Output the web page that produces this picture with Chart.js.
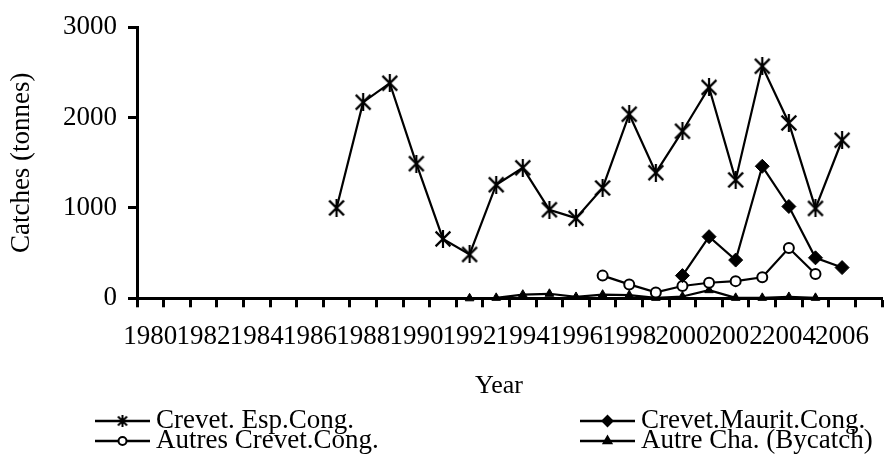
<!DOCTYPE html>
<html><head><meta charset="utf-8">
<script src="https://cdn.jsdelivr.net/npm/chart.js@4/dist/chart.umd.min.js"></script>
<style>html,body{margin:0;padding:0;background:#fff}#wrap{width:893px;height:459px;position:relative}</style>
</head><body><div id="wrap"><canvas id="c"></canvas></div>
<script>
// ---- data ----
const years = ['1980','1981','1982','1983','1984','1985','1986','1987','1988','1989','1990','1991','1992','1993','1994','1995','1996','1997','1998','1999','2000','2001','2002','2003','2004','2005','2006','2007'];
const crevetEspCong   = [null,null,null,null,null,null,null,1000,2170,2380,1490,657,485,1257,1444,980,887,1221,2037,1390,1849,2334,1310,2568,1940,995,1749,null];
const crevetMauritCong= [null,null,null,null,null,null,null,null,null,null,null,null,null,null,null,null,null,null,null,null,251,682,423,1461,1016,448,340,null];
const autresCrevetCong= [null,null,null,null,null,null,null,null,null,null,null,null,null,null,null,null,null,251,154,65,136,172,190,233,556,269,null,null];
const autreChaBycatch = [null,null,null,null,null,null,null,null,null,null,null,null,0,5,40,50,15,40,35,5,20,90,5,5,15,5,null,null];
const seriesNames = ['Crevet. Esp.Cong.','Crevet.Maurit.Cong.','Autres Crevet.Cong.','Autre Cha. (Bycatch)'];
const yTickValues = [0,1000,2000,3000];
const xTitle = 'Year';
const yTitle = 'Catches (tonnes)';

function asterisk(size, lw){
  const c=document.createElement('canvas'); c.width=size; c.height=size;
  const g=c.getContext('2d'); g.strokeStyle='#000'; g.lineWidth=lw;
  const m=lw/2+0.5;
  g.beginPath();
  g.moveTo(m,m); g.lineTo(size-m,size-m);
  g.moveTo(size-m,m); g.lineTo(m,size-m);
  g.moveTo(size/2,0); g.lineTo(size/2,size);
  g.stroke();
  return c;
}
const starBig = asterisk(18,2.2);
const starSmall = asterisk(12,2);

const FONT = '"Liberation Serif", "Times New Roman", serif';
Chart.defaults.font.family = FONT;
Chart.defaults.color = '#000';

const legendMarks = [
  {pointStyle: starSmall, radius: 6, fill:'#000'},
  {pointStyle: 'rectRot', radius: 5, fill:'#000'},
  {pointStyle: 'circle', radius: 4, fill:'#fff'},
  {pointStyle: 'triangle', radius: 4.5, fill:'#000'}
];

const refLegend = {
  id:'refLegend',
  afterDraw(chart){
    const ctx=chart.ctx;
    ctx.save();
    ctx.fillStyle='#000';
    ctx.font='26px '+FONT; ctx.textAlign='center'; ctx.textBaseline='middle';
    ctx.fillText(xTitle, 499, 386);
    const cols=[95,580], rows=[421,441];
    ctx.font='27px '+FONT; ctx.textAlign='left';
    chart.data.datasets.forEach((ds,i)=>{
      const x0=cols[i%2], y=rows[Math.floor(i/2)];
      ctx.strokeStyle='#000'; ctx.lineWidth=2.5;
      ctx.beginPath(); ctx.moveTo(x0,y); ctx.lineTo(x0+55,y); ctx.stroke();
      const mk=legendMarks[i];
      ctx.fillStyle=mk.fill; ctx.strokeStyle='#000'; ctx.lineWidth=2;
      Chart.helpers.drawPoint(ctx,{pointStyle:mk.pointStyle,radius:mk.radius,rotation:0,borderWidth:2},x0+27.5,y);
      ctx.fillStyle='#000';
      ctx.fillText(ds.label, x0+61, y);
    });
    ctx.restore();
  }
};

const base = {borderColor:'#000', borderWidth:2.2, pointBorderColor:'#000', tension:0, spanGaps:false, clip:false};
new Chart(document.getElementById('c'),{
  type:'line',
  data:{
    labels: years,
    datasets:[
      Object.assign({label:seriesNames[0], data:crevetEspCong, pointStyle:starBig, pointRadius:9, pointBackgroundColor:'#000', pointBorderWidth:2}, base),
      Object.assign({label:seriesNames[1], data:crevetMauritCong, pointStyle:'rectRot', pointRadius:7, pointBackgroundColor:'#000', pointBorderWidth:1}, base),
      Object.assign({label:seriesNames[2], data:autresCrevetCong, pointStyle:'circle', pointRadius:5, pointBackgroundColor:'#fff', pointBorderWidth:2}, base),
      Object.assign({label:seriesNames[3], data:autreChaBycatch, pointStyle:'triangle', pointRadius:5, pointBackgroundColor:'#000', pointBorderWidth:1}, base)
    ]
  },
  options:{
    responsive:true, maintainAspectRatio:false, animation:false,
    layout:{padding:{top:20,right:0,bottom:0,left:0}},
    plugins:{legend:{display:false}, tooltip:{enabled:false}},
    scales:{
      x:{
        type:'category', offset:true,
        grid:{offset:true, drawOnChartArea:false, drawTicks:true, tickLength:9, tickWidth:3, color:'#000'},
        border:{display:true, color:'#000', width:3},
        ticks:{autoSkip:false, maxRotation:0, minRotation:0, padding:13.5, font:{size:27}, color:'#000',
          callback:(v,i)=> (parseInt(years[i])%2===0 ? years[i] : '')},
        afterFit:(s)=>{ s.height = 459-298.3; }
      },
      y:{
        min:0, max:3000,
        afterBuildTicks:(s)=>{ s.ticks = yTickValues.map(v=>({value:v})); },
        grid:{drawOnChartArea:false, drawTicks:true, tickLength:9, tickWidth:3, color:'#000'},
        border:{display:true, color:'#000', width:3},
        ticks:{padding:11, font:{size:27}, color:'#000', callback:(v)=>String(v)},
        title:{display:true, text:yTitle, font:{size:27}, padding:{top:5.8,bottom:0}, color:'#000'},
        afterFit:(s)=>{ s.width = 137; }
      }
    }
  },
  plugins:[refLegend]
});
</script></body></html>
